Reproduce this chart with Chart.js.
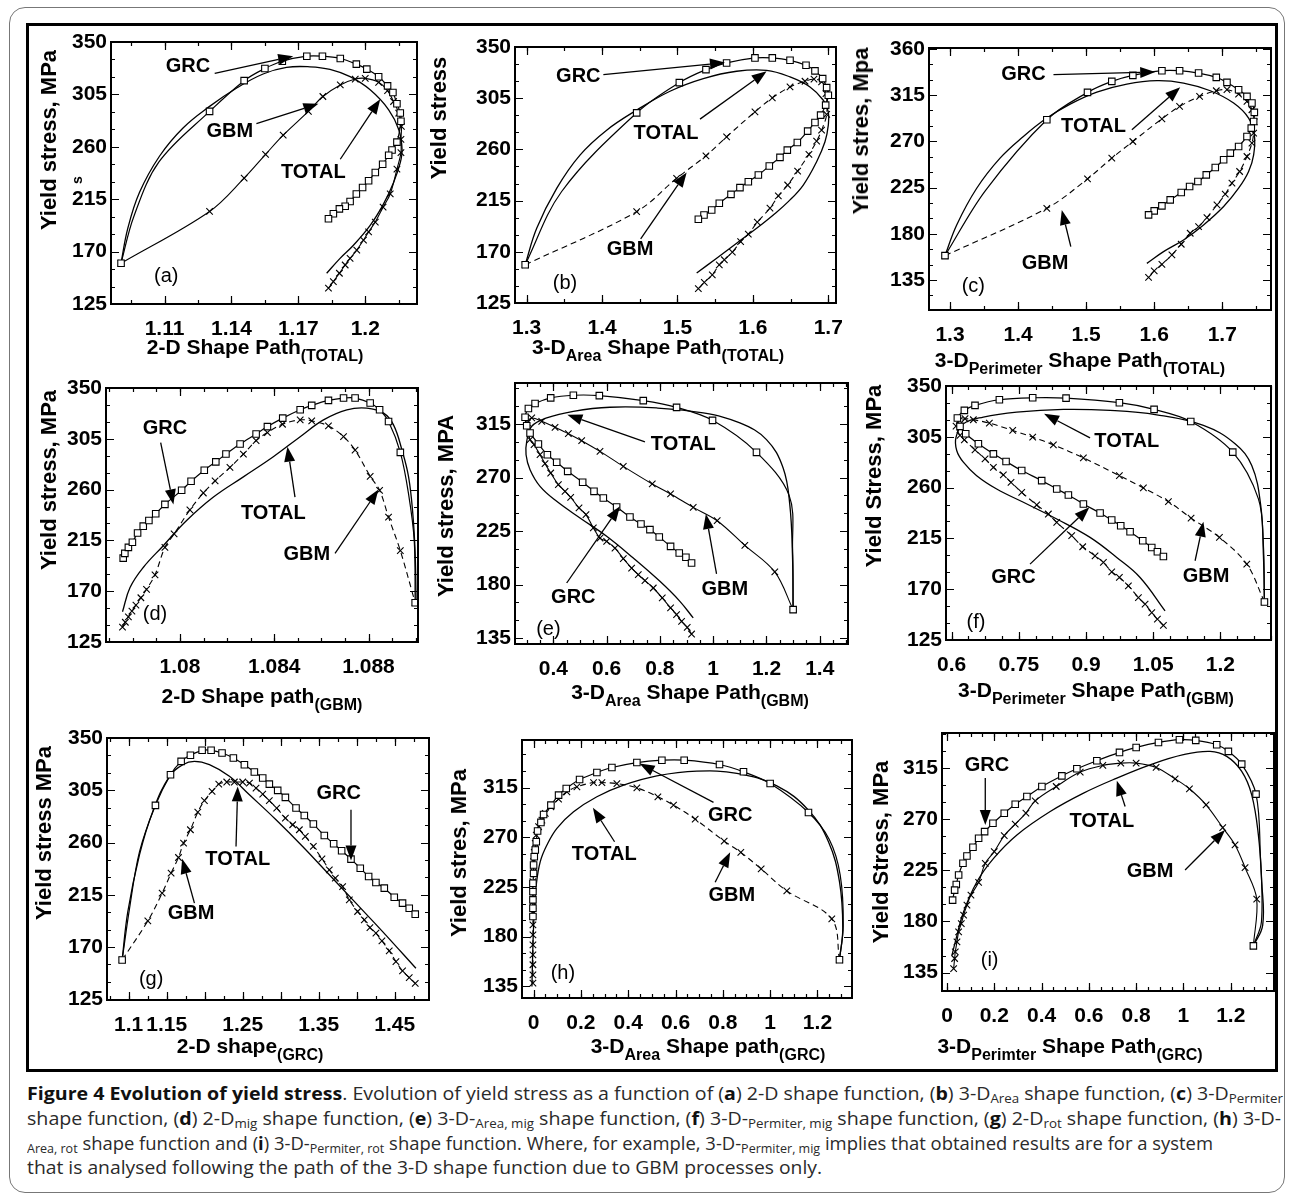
<!DOCTYPE html>
<html>
<head>
<meta charset="utf-8">
<script src="https://cdn.jsdelivr.net/npm/chart.js@4.4.1/dist/chart.umd.min.js"></script>
<style>
  body { margin: 0; background: #fff; width: 1290px; height: 1195px; position: relative; overflow: hidden;
         font-family: "Liberation Sans", Arial, sans-serif; color: #000; }
  .outer { position: absolute; left: 9px; top: 7px; width: 1276px; height: 1186px; border: 1.5px solid #777;
           border-radius: 16px; box-sizing: border-box; }
  .fig { position: absolute; left: 26px; top: 23px; width: 1252px; height: 1049px; border: 3px solid #000; box-sizing: border-box; }
  canvas { position: absolute; }
  .yt { position: absolute; font-weight: bold; font-size: 22px; white-space: nowrap; line-height: 26px;
        transform: translate(-50%, -50%) rotate(-90deg); }
  .xt { position: absolute; font-weight: bold; font-size: 21px; white-space: nowrap; line-height: 26px;
        transform: translateX(-50%); }
  .xt sub { font-size: 16px; vertical-align: -7px; line-height: 0; }
  .cap { position: absolute; left: 27px; top: 1081px; font-family: "Open Sans", sans-serif; color: #2a2a2a; font-size: 17.5px; }
  .cap div { white-space: nowrap; height: 24.8px; line-height: 24.8px; }
  .cap span { display: inline-block; transform-origin: 0 50%; }
  .cap sub { font-size: 0.68em; vertical-align: -0.25em; line-height: 0; }
  .cap b { color: #111; }
</style>
</head>
<body>
<div class="outer"></div>
<div class="fig"></div>
<div id="root"></div>

<div class="yt" style="left:49px;top:140px">Yield stress, MPa</div>
<div class="yt" style="left:77px;top:180px;font-size:14px">s</div>
<div class="yt" style="left:439px;top:118px">Yield stress</div>
<div class="yt" style="left:861px;top:131px">Yield stres, Mpa</div>
<div class="yt" style="left:49px;top:480px">Yield stress, MPa</div>
<div class="yt" style="left:446px;top:506px">Yield stress, MPA</div>
<div class="yt" style="left:874px;top:476px">Yield Stress, MPa</div>
<div class="yt" style="left:44px;top:833px">Yield stress MPa</div>
<div class="yt" style="left:459px;top:853px">Yield stres, MPa</div>
<div class="yt" style="left:881px;top:852px">Yield Stress, MPa</div>

<div class="xt" style="left:255px;top:334px">2-D Shape Path<sub>(TOTAL)</sub></div>
<div class="xt" style="left:658px;top:334px">3-D<sub>Area</sub> Shape Path<sub>(TOTAL)</sub></div>
<div class="xt" style="left:1080px;top:347px">3-D<sub>Perimeter</sub> Shape Path<sub>(TOTAL)</sub></div>
<div class="xt" style="left:262px;top:683px">2-D Shape path<sub>(GBM)</sub></div>
<div class="xt" style="left:690px;top:679px">3-D<sub>Area</sub> Shape Path<sub>(GBM)</sub></div>
<div class="xt" style="left:1096px;top:677px">3-D<sub>Perimeter</sub> Shape Path<sub>(GBM)</sub></div>
<div class="xt" style="left:250px;top:1033px">2-D shape<sub>(GRC)</sub></div>
<div class="xt" style="left:708px;top:1033px">3-D<sub>Area</sub> Shape path<sub>(GRC)</sub></div>
<div class="xt" style="left:1070px;top:1033px">3-D<sub>Perimter</sub> Shape Path<sub>(GRC)</sub></div>

<div class="cap" id="cap">
  <div><span data-w="1256"><b>Figure 4 Evolution of yield stress</b>. Evolution of yield stress as a function of (<b>a</b>) 2-D shape function, (<b>b</b>) 3-D<sub>Area</sub> shape function, (<b>c</b>) 3-D<sub>Permiter</sub></span></div>
  <div><span data-w="1254">shape function, (<b>d</b>) 2-D<sub>mig</sub> shape function, (<b>e</b>) 3-D-<sub>Area, mig</sub> shape function, (<b>f</b>) 3-D-<sub>Permiter, mig</sub> shape function, (<b>g</b>) 2-D<sub>rot</sub> shape function, (<b>h</b>) 3-D-</span></div>
  <div><span data-w="1186"><sub>Area, rot</sub> shape function and (<b>i</b>) 3-D-<sub>Permiter, rot</sub> shape function. Where, for example, 3-D-<sub>Permiter, mig</sub> implies that obtained results are for a system</span></div>
  <div><span data-w="795">that is analysed following the path of the 3-D shape function due to GBM processes only.</span></div>
</div>

<script>
// ---- data: [x, y] (third value 0 = no marker, line only) ----
const aXTicks = [1.11, 1.14, 1.17, 1.2];
const aYTicks = [125, 170, 215, 260, 305, 350];
const aGRC = [[1.0905,160],[1.0962,200,0],[1.1075,247,0],[1.1302,290.4],[1.1457,316.8],[1.155,327.3],[1.1628,333.5],[1.1738,337.8],[1.1808,337.8],[1.1888,335.8],[1.196,331],[1.2007,326.7],[1.206,320.2],[1.21,312.3],[1.2124,306.6],[1.2142,297],[1.2157,289],[1.216,281.9],[1.2142,264],[1.212,257.2],[1.2105,252.7],[1.2078,245],[1.2045,237.9],[1.2015,230.8],[1.1988,225],[1.196,219.5],[1.1932,213],[1.191,209],[1.1884,206.7],[1.1857,202.5],[1.1835,198.2]];
const aGBM = [[1.0905,160],[1.1302,204.5],[1.1457,233.1],[1.1553,253.5],[1.1632,270],[1.1745,290.4],[1.181,303.2],[1.1888,313.1],[1.1955,318.2],[1.2,318.8],[1.206,315.4],[1.21,308.3],[1.2127,298.9],[1.215,289],[1.2162,277.5],[1.216,266.3],[1.216,255],[1.2142,240.8],[1.2112,219.5],[1.208,208.2],[1.2045,195.4],[1.2015,186.9],[1.1992,179.8],[1.1962,171.3],[1.1932,164.2],[1.191,158.5],[1.1884,151.4],[1.1857,144.3],[1.1835,138.6]];
const aTOT = [[1.0905,160],[1.0935,189.7],[1.0988,220.9],[1.1078,252.1],[1.1183,276.2],[1.1302,294.7],[1.1422,310.3],[1.1542,322.5],[1.1647,328.2],[1.1752,328.7],[1.1842,326.5],[1.1932,320.2],[1.2022,308.9],[1.2105,291.8],[1.215,274.8],[1.2165,257.8],[1.2157,246.4],[1.2127,229.4],[1.2082,211],[1.2022,192.5],[1.1947,175.5],[1.1887,164.2],[1.1827,151.4]];

const bXTicks = [1.3, 1.4, 1.5, 1.6, 1.7];
const bYTicks = [125, 170, 215, 260, 305, 350];
const bGRC = [[1.298,158.6],[1.3464,223,0],[1.4459,292.1],[1.5025,318.7],[1.5378,330.1],[1.5652,336],[1.6028,340.4],[1.6258,340.4],[1.6493,338.3],[1.6705,333.9],[1.6824,329],[1.6926,322.2],[1.6979,314.3],[1.7001,307.6],[1.6966,298.9],[1.6899,290.1],[1.6824,283.7],[1.6727,276.1],[1.659,266.1],[1.6457,259.4],[1.636,253],[1.6218,245.4],[1.6073,237.5],[1.594,231.6],[1.5829,226.4],[1.571,220.5],[1.5555,212.7],[1.5454,206.8],[1.5352,202.4],[1.5277,198.6]];
const bGBM = [[1.298,158.6],[1.4459,205.3],[1.4989,234.6],[1.5378,254.4],[1.5652,271.1],[1.6028,293],[1.6258,305.3],[1.6493,314.9],[1.6692,319.9],[1.6811,321.7],[1.6912,319.3],[1.697,309.1],[1.6979,290.7],[1.6912,276.9],[1.6846,267.3],[1.6744,255.6],[1.6594,241],[1.6462,228.7],[1.6338,219.1],[1.6227,208.3],[1.6059,196],[1.594,185.5],[1.5838,179],[1.5728,169.7],[1.5622,163],[1.5555,158.6],[1.5462,149.8],[1.5356,143.1],[1.5277,137.6]];
const bTOT = [[1.298,158.6],[1.3133,190.7],[1.3398,225.8],[1.3707,255],[1.4061,276.9],[1.4459,294.5],[1.4901,311.1],[1.5343,322.2],[1.5785,328.7],[1.6183,329.5],[1.6493,323.7],[1.6758,314.9],[1.6935,303.2],[1.7001,293],[1.7001,281.3],[1.6957,266.7],[1.6846,249.2],[1.6669,228.7],[1.647,214.1],[1.6271,202.4],[1.605,190.7],[1.5785,177.6],[1.552,164.4],[1.5255,151.3]];

const cXTicks = [1.3, 1.4, 1.5, 1.6, 1.7];
const cYTicks = [135, 180, 225, 270, 315, 360];
const cGRC = [[1.2926,158.7],[1.352,222,0],[1.4422,291],[1.502,317.6],[1.5377,328.3],[1.5686,334.2],[1.6113,338.7],[1.6373,338.7],[1.6652,336.4],[1.6912,332.2],[1.7069,327.3],[1.724,320.2],[1.7363,313.7],[1.7436,307.2],[1.7471,298.1],[1.7461,289.3],[1.7426,282.8],[1.7363,274.7],[1.724,265],[1.7118,258.5],[1.702,252],[1.6897,244.5],[1.6765,237.3],[1.6642,230.8],[1.652,226],[1.6397,220.1],[1.6235,213],[1.6113,207.1],[1.6,202.3],[1.5917,198.4]];
const cGBM = [[1.2926,158.7],[1.4422,204.8],[1.502,233.4],[1.5377,253.6],[1.5686,269.8],[1.6113,291.9],[1.6373,303.9],[1.6667,313.7],[1.6912,319.2],[1.7069,320.2],[1.724,316],[1.7363,308.8],[1.7436,300.7],[1.747,289],[1.7461,277.9],[1.7436,268.2],[1.7363,255.2],[1.7255,240.6],[1.7142,229.2],[1.7044,218.5],[1.6922,208.1],[1.6775,195.8],[1.6652,187],[1.6529,180.5],[1.6397,169.8],[1.626,159.4],[1.6113,150.3],[1.6,143.8],[1.5917,137.6]];
const cTOT = [[1.2926,158.7],[1.3098,188.6],[1.3392,224.3],[1.3735,253.6],[1.4078,274.7],[1.4422,292.6],[1.4765,306.2],[1.5157,317.9],[1.5598,325.7],[1.6039,329],[1.6431,326.7],[1.6824,319.2],[1.7167,307.2],[1.7387,292.6],[1.7471,276.3],[1.7461,256.8],[1.7387,240.6],[1.724,224.3],[1.702,206.5],[1.6725,188.6],[1.6431,174],[1.6137,162.6],[1.5892,151.2]];

const dXTicks = [1.08, 1.084, 1.088];
const dYTicks = [125, 170, 215, 260, 305, 350];
const dGRC = [[1.07759,199.3],[1.07766,203.5],[1.07781,208.8],[1.07798,213.3],[1.0782,221.6],[1.07844,227.6],[1.07868,232.6],[1.07897,238.6],[1.07936,246.9],[1.08007,259.4],[1.08047,267.4],[1.08103,277.2],[1.08152,284.6],[1.08195,291.5],[1.08255,300.4],[1.08323,309.3],[1.08371,315.8],[1.08436,323.3],[1.0851,330.7],[1.08559,334.6],[1.0863,339],[1.08694,341.1],[1.08743,341.1],[1.08807,336.7],[1.08847,330.7],[1.08885,320.3],[1.08935,293],[1.0897,256,0],[1.08994,215,0],[1.08998,159.8]];
const dGBM = [[1.07756,138.1],[1.07768,142.5],[1.07781,147.3],[1.07796,152.3],[1.07813,157.7],[1.07834,164.2],[1.07858,171.7],[1.07894,184.5],[1.07936,208.8],[1.07975,220.7],[1.08042,242.1],[1.08099,257],[1.08149,267.7],[1.08212,279.6],[1.08269,291.5],[1.08323,303.4],[1.08371,310.5],[1.08435,317.9],[1.0851,321.8],[1.08559,320.9],[1.0863,316.4],[1.08694,306.9],[1.08743,295],[1.08807,271.8],[1.08847,259.4],[1.08885,235.6],[1.08935,205.9],[1.08998,159.8]];
const dTOT = [[1.07756,151.8],[1.07788,173.2],[1.07844,191],[1.07929,210.3],[1.08028,232.6],[1.08142,253.4],[1.08269,271.3],[1.08396,289.1],[1.0851,306.9],[1.08609,321.8],[1.08708,330.7],[1.08793,332.2],[1.08864,327.7],[1.08906,317.3],[1.08942,295],[1.0897,271.3],[1.08988,238.6],[1.08998,202.9],[1.09002,159.8]];

const eXTicks = [0.4, 0.6, 0.8, 1, 1.2, 1.4];
const eYTicks = [135, 180, 225, 270, 315];
const eGRC = [[1.3,158.9],[1.298,210,0],[1.285,255,0],[1.1625,291.2],[0.9975,318.1],[0.8625,329],[0.7375,334.7],[0.5725,338.9],[0.475,339.2],[0.39,337],[0.3313,332.2],[0.3063,328],[0.2938,320.7],[0.3,313.6],[0.3125,307.5],[0.3438,298.2],[0.3775,289.2],[0.4125,282.8],[0.4538,275.2],[0.51,266],[0.5525,258.4],[0.5875,252.8],[0.6375,245.2],[0.6875,236.8],[0.7288,230.9],[0.7625,226.2],[0.7975,220],[0.84,212.1],[0.8725,206.5],[0.8975,202.9],[0.9188,198.1]];
const eGBM = [[1.3,158.9],[1.2313,190.6],[1.1188,213],[1.015,233.7],[0.925,244.9],[0.84,256.2],[0.7713,264.6],[0.6625,279.4],[0.575,292],[0.5063,301],[0.4563,306.9],[0.4063,312.2],[0.3563,317.3],[0.3188,320.1],[0.3025,315.9],[0.3125,301.9],[0.3275,297.6],[0.35,289.2],[0.3688,281.7],[0.39,273.8],[0.4188,264],[0.4438,258.4],[0.465,253.4],[0.4963,244.4],[0.5225,238.8],[0.55,227.6],[0.575,219.1],[0.6,216.3],[0.6313,210.7],[0.6625,201.8],[0.6938,193.9],[0.7188,188.3],[0.7438,183.3],[0.775,177.1],[0.8088,168.7],[0.84,160.3],[0.8625,154.7],[0.8813,149.1],[0.9025,144],[0.9188,138.4]];
const eTOT = [[1.3,158.9],[1.2975,205.1],[1.2875,247.2],[1.2625,278],[1.2,301.9],[1.1,315.9],[0.9625,324.3],[0.7875,328.5],[0.6125,329.1],[0.475,325.7],[0.375,320.1],[0.3188,313.1],[0.3,300.5],[0.2975,289.2],[0.3125,276.6],[0.35,262.6],[0.4125,250],[0.5,236],[0.6,220.6],[0.7,202.3],[0.8,182.7],[0.875,165.9],[0.925,151.9]];

const fXTicks = [0.6, 0.75, 0.9, 1.05, 1.2];
const fYTicks = [125, 170, 215, 260, 305, 350];
const fGRC = [[1.2984,158.7],[1.296,210,0],[1.285,250,0],[1.2277,291.4],[1.1339,318.6],[1.052,329.3],[0.9745,335.2],[0.8554,339.3],[0.7809,339.6],[0.7065,337.8],[0.6521,332.8],[0.6283,328.4],[0.6127,321.6],[0.6186,314.2],[0.6313,307.7],[0.6596,298.8],[0.6931,289.9],[0.7214,283.1],[0.7564,275.1],[0.801,266.2],[0.8346,258.8],[0.8606,253.5],[0.8941,245.5],[0.9314,237.5],[0.9574,231.3],[0.9775,226.2],[0.9984,220.9],[1.0267,212.9],[1.0468,207],[1.0594,203.2],[1.0728,199]];
const fGBM = [[1.2984,158.7],[1.259,192.2],[1.1979,215.9],[1.1346,233],[1.084,247.6],[1.0281,259.7],[0.9745,270.6],[0.8941,286.3],[0.8271,297.9],[0.7809,304.7],[0.7363,310.6],[0.6841,317.1],[0.6484,320.1],[0.6298,321],[0.6171,319.5],[0.6097,314.5],[0.6186,306.2],[0.6283,302.3],[0.6521,293.4],[0.6745,285.4],[0.6931,278],[0.7154,271.2],[0.7325,264.7],[0.7564,255.8],[0.7899,244.6],[0.8159,236.6],[0.8346,229.2],[0.868,217.4],[0.8926,207.6],[0.9202,199.6],[0.9388,193.7],[0.9574,185.4],[0.9745,180.4],[0.9946,173],[1.017,162.6],[1.0319,156.7],[1.0468,149.3],[1.0594,143.4],[1.0728,138]];
const fTOT = [[1.2984,158.7],[1.2962,199.6],[1.2902,244],[1.2701,279.5],[1.2329,298.8],[1.1622,315.1],[1.0579,324.5],[0.9537,328.4],[0.8494,329.3],[0.7452,326.9],[0.6707,322.5],[0.6261,316.5],[0.6097,304.7],[0.6112,292.9],[0.6261,282.5],[0.6558,270.6],[0.7005,258.8],[0.7601,247],[0.8346,232.2],[0.909,215.9],[0.9686,198.1],[1.0207,180.4],[1.0765,150.8]];

const gXTicks = [1.1, 1.15, 1.25, 1.35, 1.45];
const gYTicks = [125, 170, 215, 260, 305, 350];
const gGRC = [[1.0914,158.9],[1.1011,203,0],[1.1142,252,0],[1.1352,292],[1.155,318.4],[1.169,329.9],[1.1812,335.1],[1.1966,339.4],[1.2084,339.4],[1.2228,337.1],[1.2377,332.8],[1.2522,327],[1.2653,320.7],[1.2763,315.5],[1.285,310.3],[1.296,304.9],[1.3061,298.9],[1.3201,289.7],[1.331,283.3],[1.3429,275.9],[1.3573,266.1],[1.3696,258.9],[1.3801,252.9],[1.3924,245.7],[1.4046,237.9],[1.4156,230.7],[1.4252,225.6],[1.4362,220.7],[1.4493,212.9],[1.4602,207.8],[1.469,203.4],[1.4769,198.3]];
const gGBM = [[1.0914,158.9],[1.1252,192.5],[1.144,216.4],[1.1558,233.6],[1.1655,247.1],[1.1722,259.5],[1.1812,271],[1.1909,286.2],[1.1996,296],[1.2097,304],[1.2185,310.3],[1.229,312.1],[1.239,312.1],[1.25,312.1],[1.2588,311.2],[1.2675,306.9],[1.2763,301.7],[1.285,296],[1.2947,289.7],[1.3061,281],[1.3157,275.3],[1.3245,271],[1.3323,265.2],[1.3429,256.6],[1.3542,246],[1.3639,236.5],[1.3718,229.3],[1.3814,222.1],[1.3902,210.6],[1.4011,200.6],[1.4099,193.4],[1.4173,186.8],[1.4252,181.9],[1.4331,175.3],[1.4427,166.7],[1.4515,157.5],[1.4602,149.4],[1.469,143.7],[1.4769,138.8]];
const gTOT = [[1.0914,158.9],[1.0989,200.6],[1.1142,249.4],[1.1317,286.8],[1.1536,317],[1.1712,327],[1.1865,329.9],[1.2062,327],[1.2325,317],[1.2588,301.1],[1.2938,279.6],[1.3288,256.6],[1.3639,232.2],[1.3989,207.8],[1.434,183.3],[1.4778,151.7]];

const hXTicks = [0, 0.2, 0.4, 0.6, 0.8, 1, 1.2];
const hYTicks = [135, 180, 225, 270, 315];
const hGRC = [[1.293,159.1],[1.309,190,0],[1.296,236,0],[1.25,268,0],[1.162,292.4],[1.0,318.6],[0.8873,329.2],[0.7859,335.8],[0.6366,339.7],[0.5423,339.7],[0.4366,337.6],[0.331,333.1],[0.2676,328.6],[0.1944,322.2],[0.138,314.1],[0.1056,308.1],[0.0732,299.1],[0.0423,290.6],[0.031,283.4],[0.0169,275.6],[0.0113,265.9],[0.007,258.4],[0.0028,252.4],[0,244.9],[0,237.3],[-0.0028,228.3],[-0.0028,220.8],[-0.0028,213.3],[-0.0028,205.7],[-0.0028,198.2]];
const hGBM = [[1.293,159.1],[1.2606,196.1],[1.0704,221.4],[0.962,241.3],[0.876,256.3],[0.8056,266.5],[0.6831,286.4],[0.5915,299.1],[0.5254,306.6],[0.4366,314.7],[0.3521,318.6],[0.2887,319.5],[0.2535,319.5],[0.1831,315.6],[0.1408,311.1],[0.1056,304.5],[0.0732,297.6],[0.0493,291.5],[0.0352,285.5],[0.0211,279.5],[0.0113,272],[0.007,264.4],[0.0028,256.3],[0,247.9],[0,238.9],[-0.0028,229.8],[-0.0028,220.8],[-0.0028,211.8],[-0.0028,202.7],[-0.0028,190.7],[-0.0028,181.7],[-0.0028,172.6],[-0.0028,163.6],[-0.0028,154.6],[-0.0028,145.5],[-0.0028,138]];
const hTOT = [[1.293,159.1],[1.307,187.7],[1.293,229.8],[1.2465,265.9],[1.162,294.5],[1.0282,316.5],[0.8592,327.7],[0.6901,329.8],[0.5211,325.5],[0.3803,317.1],[0.2676,306.6],[0.169,293],[0.0986,278],[0.0563,262.9],[0.0282,247.9],[0.0113,226.8],[0.0028,202.7],[-0.0028,172.6],[-0.007,135]];

const iXTicks = [0, 0.2, 0.4, 0.6, 0.8, 1, 1.2];
const iYTicks = [135, 180, 225, 270, 315];
const iGRC = [[1.2958,158.5],[1.33,180,0],[1.325,240,0],[1.307,292.1],[1.2465,318.5],[1.1901,329.7],[1.1408,335.6],[1.0521,339.4],[0.9831,340],[0.8944,337.6],[0.8,333.2],[0.7296,328.8],[0.6338,321.5],[0.5493,314.4],[0.4859,308.2],[0.4014,298.8],[0.338,290],[0.2887,283.2],[0.2423,275.3],[0.1944,266.5],[0.1592,259.1],[0.1338,253.2],[0.1099,245.3],[0.0845,237.6],[0.0676,231.2],[0.0493,220.9],[0.0394,212.6],[0.0324,207.6],[0.0239,198.8]];
const iGBM = [[1.2958,158.5],[1.3099,199.7],[1.2606,227.4],[1.2183,247.4],[1.1662,262.6],[1.0958,282.6],[1.0254,296.8],[0.9648,305.6],[0.8845,315.6],[0.8,319.4],[0.7352,319.4],[0.6592,317.4],[0.5634,311.5],[0.462,298.8],[0.3732,286.2],[0.3338,275.3],[0.2887,265.6],[0.2423,255.6],[0.2,241.5],[0.162,231.2],[0.1338,214.4],[0.1014,203.2],[0.0845,194.4],[0.0704,185.6],[0.0606,178.2],[0.0493,170.9],[0.0423,162.1],[0.0352,153.2],[0.0324,147.4],[0.0282,138.5]];
const iTOT = [[1.2958,158.5],[1.3352,176.8],[1.331,215],[1.3169,256.2],[1.2887,291.5],[1.2465,312.1],[1.1831,325.3],[1.1127,329.7],[1.0,326.8],[0.8592,317.9],[0.7183,306.2],[0.5775,293],[0.4366,276.8],[0.2958,256.2],[0.1972,235.6],[0.1268,215],[0.0704,188.5],[0.0352,162.1],[0.0211,150.3]];

// ---- panel layout: plot-area rectangle in page pixels, axis ranges, tick spacing, labels/arrows ----
const panels = [
  { rect: [111, 42, 417, 304], xr: [1.086, 1.2232], yr: [125, 350], xt: aXTicks, yt: aYTicks, xs: [1.11, 0.03, 0.015], ys: [125, 45, 15],
    grc: aGRC, gbm: aGBM, tot: aTOT, dash: false, tag: ['(a)', 1.1108, 148.6],
    notes: [['GRC', 1.1205, 328.7], ['GBM', 1.1393, 273.4], ['TOTAL', 1.1767, 237.9]],
    arrows: [[1.1325, 323, 1.1677, 337.8], [1.1512, 279.9, 1.179, 296.9], [1.1888, 249.3, 1.2067, 300.9]] },
  { rect: [515, 47, 836, 303], xr: [1.2845, 1.7103], yr: [125, 350], xt: bXTicks, yt: bYTicks, xs: [1.3, 0.1, 0.05], ys: [125, 45, 15],
    grc: bGRC, gbm: bGBM, tot: bTOT, dash: true, tag: ['(b)', 1.3508, 142.5],
    notes: [['GRC', 1.3685, 323.7], ['TOTAL', 1.4848, 274], ['GBM', 1.437, 172.3]],
    arrows: [[1.4017, 325.7, 1.563, 336.3], [1.5299, 286.6, 1.6183, 328.7], [1.4512, 181.4, 1.5122, 239.8]] },
  { rect: [929, 48, 1271, 310], xr: [1.2691, 1.7716], yr: [105.8, 360.8], xt: cXTicks, yt: cYTicks, xs: [1.3, 0.1, 0.05], ys: [135, 45, 15],
    grc: cGRC, gbm: cGBM, tot: cTOT, dash: true, tag: ['(c)', 1.3343, 128.5],
    notes: [['GRC', 1.4078, 334.8], ['TOTAL', 1.5108, 284.5], ['GBM', 1.4397, 151.2]],
    arrows: [[1.452, 334.8, 1.6015, 337.4], [1.5672, 281.2, 1.6382, 322.5], [1.4775, 167.5, 1.4642, 203.2]] },
  { rect: [106, 388, 418, 642], xr: [1.07686, 1.0901], yr: [125, 350], xt: dXTicks, yt: dYTicks, xs: [1.08, 0.004, 0.001], ys: [125, 45, 15],
    grc: dGRC, gbm: dGBM, tot: dTOT, dash: true, tag: ['(d)', 1.07894, 149.4],
    notes: [['GRC', 1.07936, 314.4], ['TOTAL', 1.08396, 239.2], ['GBM', 1.08538, 202.3]],
    arrows: [[1.07918, 301.6, 1.07972, 246.9], [1.08488, 253.4, 1.08456, 298], [1.08658, 203.5, 1.08842, 260]] },
  { rect: [515, 383, 848, 644], xr: [0.256, 1.506], yr: [130, 349.5], xt: eXTicks, yt: eYTicks, xs: [0.4, 0.2, 0.05], ys: [135, 45, 15],
    grc: eGRC, gbm: eGBM, tot: eTOT, dash: false, tag: ['(e)', 0.3813, 142.1],
    notes: [['TOTAL', 0.8875, 298.2], ['GBM', 1.0438, 175.7], ['GRC', 0.475, 169.2]],
    arrows: [[0.7438, 299.9, 0.4525, 322.9], [1.0125, 188.9, 0.9725, 239.3], [0.45, 181.3, 0.65, 245.8]] },
  { rect: [946, 386, 1271, 640], xr: [0.5873, 1.3131], yr: [125, 350], xt: fXTicks, yt: fYTicks, xs: [0.6, 0.15, 0.0375], ys: [125, 45, 15],
    grc: fGRC, gbm: fGBM, tot: fTOT, dash: true, tag: ['(f)', 0.6544, 140.4],
    notes: [['TOTAL', 0.9909, 300.8], ['GBM', 1.1681, 181.2], ['GRC', 0.7378, 180.4]],
    arrows: [[0.909, 304.1, 0.8063, 325.4], [1.1436, 195.2, 1.1622, 229.8], [0.775, 192.2, 0.9075, 242.5]] },
  { rect: [107, 738, 429, 1000], xr: [1.0715, 1.495], yr: [124.4, 350], xt: gXTicks, yt: gYTicks, xs: [1.1, 0.05, 0.025], ys: [125, 45, 15],
    grc: gGRC, gbm: gGBM, tot: gTOT, dash: true, tag: ['(g)', 1.1295, 141.7],
    notes: [['GRC', 1.3761, 302.6], ['TOTAL', 1.2434, 245.1], ['GBM', 1.1821, 199.1]],
    arrows: [[1.3924, 288.2, 1.3924, 244.5], [1.2412, 256.6, 1.2434, 308.3], [1.1865, 207.8, 1.1703, 246]] },
  { rect: [522, 740, 852, 998], xr: [-0.049, 1.346], yr: [124.5, 358], xt: hXTicks, yt: hYTicks, xs: [0, 0.2, 0.05], ys: [135, 45, 15],
    grc: hGRC, gbm: hGBM, tot: hTOT, dash: true, tag: ['(h)', 0.1239, 147],
    notes: [['GRC', 0.831, 289.4], ['TOTAL', 0.2986, 254.5], ['GBM', 0.838, 216.9]],
    arrows: [[0.7606, 301.5, 0.4479, 336.7], [0.3423, 265.9, 0.2507, 296.6], [0.7676, 229.2, 0.831, 256.3]] },
  { rect: [942, 733, 1274, 991], xr: [-0.021, 1.383], yr: [118.8, 345.9], xt: iXTicks, yt: iYTicks, xs: [0, 0.2, 0.05], ys: [135, 45, 15],
    grc: iGRC, gbm: iGBM, tot: iTOT, dash: false, tag: ['(i)', 0.1803, 145.9],
    notes: [['GRC', 0.169, 317.4], ['TOTAL', 0.6549, 267.9], ['GBM', 0.8592, 224.4]],
    arrows: [[0.162, 306.2, 0.162, 265], [0.7535, 281.2, 0.7183, 303.8], [1.007, 225.3, 1.1761, 260.6]] },
];

Chart.defaults.font.family = '"Liberation Sans", Arial, sans-serif';
Chart.defaults.color = '#000';

function stepValues(min, max, ref, step) {
  const out = [];
  const k0 = Math.ceil((min - ref) / step - 1e-6), k1 = Math.floor((max - ref) / step + 1e-6);
  for (let k = k0; k <= k1; k++) out.push(ref + k * step);
  return out;
}

function arrow(ctx, x1, y1, x2, y2) {
  const a = Math.atan2(y2 - y1, x2 - x1), L = 15, W = 5.5;
  const bx = x2 - L * Math.cos(a), by = y2 - L * Math.sin(a);
  ctx.beginPath(); ctx.moveTo(x1, y1); ctx.lineTo(bx, by); ctx.stroke();
  ctx.beginPath();
  ctx.moveTo(x2, y2);
  ctx.lineTo(bx + W * Math.sin(a), by - W * Math.cos(a));
  ctx.lineTo(bx - W * Math.sin(a), by + W * Math.cos(a));
  ctx.closePath(); ctx.fill();
}

// frame, inward ticks on all four sides, curve labels and arrows
const framePlugin = {
  id: 'frame',
  afterDatasetsDraw(chart, args, p) {
    const { ctx, chartArea: ar, scales: { x, y } } = chart;
    ctx.save();
    ctx.strokeStyle = '#000'; ctx.fillStyle = '#000'; ctx.lineWidth = 1.2;
    const tickSet = (sc, rng, st, horiz) => {
      const major = stepValues(rng[0], rng[1], st[0], st[1]);
      const minor = stepValues(rng[0], rng[1], st[0], st[2]);
      const draw = (v, len) => {
        const px = Math.round(sc.getPixelForValue(v)) + 0.5;
        ctx.beginPath();
        if (horiz) {
          ctx.moveTo(px, ar.bottom); ctx.lineTo(px, ar.bottom - len);
          ctx.moveTo(px, ar.top); ctx.lineTo(px, ar.top + len);
        } else {
          ctx.moveTo(ar.left, px); ctx.lineTo(ar.left + len, px);
          ctx.moveTo(ar.right, px); ctx.lineTo(ar.right - len, px);
        }
        ctx.stroke();
      };
      minor.forEach(v => draw(v, 4));
      major.forEach(v => draw(v, 8));
    };
    tickSet(x, p.xr, p.xs, true);
    tickSet(y, p.yr, p.ys, false);
    ctx.lineWidth = 2;
    ctx.strokeRect(ar.left, ar.top, ar.right - ar.left, ar.bottom - ar.top);

    ctx.lineWidth = 1.3;
    p.arrows.forEach(a => arrow(ctx, x.getPixelForValue(a[0]), y.getPixelForValue(a[1]),
                                     x.getPixelForValue(a[2]), y.getPixelForValue(a[3])));
    ctx.textAlign = 'center'; ctx.textBaseline = 'middle';
    ctx.font = 'bold 20px "Liberation Sans", Arial, sans-serif';
    p.notes.forEach(n => ctx.fillText(n[0], x.getPixelForValue(n[1]), y.getPixelForValue(n[2])));
    ctx.font = '20px "Liberation Sans", Arial, sans-serif';
    ctx.fillText(p.tag[0], x.getPixelForValue(p.tag[1]), y.getPixelForValue(p.tag[2]));
    ctx.restore();
  }
};

const toPts = arr => arr.map(q => ({ x: q[0], y: q[1], m: q.length > 2 ? q[2] : 1 }));
const markerR = r => ctx => (ctx.raw && ctx.raw.m === 0 ? 0 : r);

const padL = 80, padT = 14, padR = 10, padB = 48;
const root = document.getElementById('root');

panels.forEach(p => {
  const [L, T, R, B] = p.rect;
  const cv = document.createElement('canvas');
  const w = R - L + padL + padR, h = B - T + padT + padB;
  cv.width = w; cv.height = h;
  cv.style.left = (L - padL) + 'px'; cv.style.top = (T - padT) + 'px';
  cv.style.width = w + 'px'; cv.style.height = h + 'px';
  root.appendChild(cv);

  const tickFont = { size: 21, weight: 'bold' };
  new Chart(cv, {
    type: 'scatter',
    data: {
      datasets: [
        { label: 'GRC', data: toPts(p.grc), showLine: true, tension: 0.35, borderColor: '#000', borderWidth: 1.2,
          pointStyle: 'rect', pointRadius: markerR(4.6), pointBackgroundColor: '#fff', pointBorderColor: '#000', pointBorderWidth: 1.1 },
        { label: 'GBM', data: toPts(p.gbm), showLine: true, tension: 0.35, borderColor: '#000', borderWidth: 1.1,
          borderDash: p.dash ? [6, 4] : [], pointStyle: 'crossRot', pointRadius: markerR(4.6),
          pointBorderColor: '#000', pointBorderWidth: 1.1 },
        { label: 'TOTAL', data: toPts(p.tot), showLine: true, tension: 0.4, borderColor: '#000', borderWidth: 1.3,
          pointRadius: 0 },
      ]
    },
    options: {
      responsive: false,
      animation: false,
      layout: { padding: { top: padT, right: padR, left: 0, bottom: 0 } },
      plugins: { legend: { display: false }, tooltip: { enabled: false }, frame: p },
      scales: {
        x: {
          type: 'linear', min: p.xr[0], max: p.xr[1],
          grid: { display: false, drawTicks: false }, border: { display: false },
          afterBuildTicks: s => { s.ticks = p.xt.map(v => ({ value: v })); },
          afterFit: s => { s.height = padB; s.paddingLeft = 0; s.paddingRight = 0; },
          ticks: { autoSkip: false, maxRotation: 0, padding: 13, font: tickFont, color: '#000', callback: v => String(v) }
        },
        y: {
          type: 'linear', min: p.yr[0], max: p.yr[1],
          grid: { display: false, drawTicks: false }, border: { display: false },
          afterBuildTicks: s => { s.ticks = p.yt.map(v => ({ value: v })); },
          afterFit: s => { s.width = padL; s.paddingTop = 0; s.paddingBottom = 0; },
          ticks: { autoSkip: false, padding: 4, font: tickFont, color: '#000', callback: v => String(v) }
        }
      }
    },
    plugins: [framePlugin]
  });
});

// squeeze each caption line to the width it takes in the figure
document.querySelectorAll('#cap span[data-w]').forEach(s => {
  const w0 = s.getBoundingClientRect().width;
  s.style.transform = 'scaleX(' + (Number(s.dataset.w) / w0) + ')';
});
</script>
</body>
</html>
